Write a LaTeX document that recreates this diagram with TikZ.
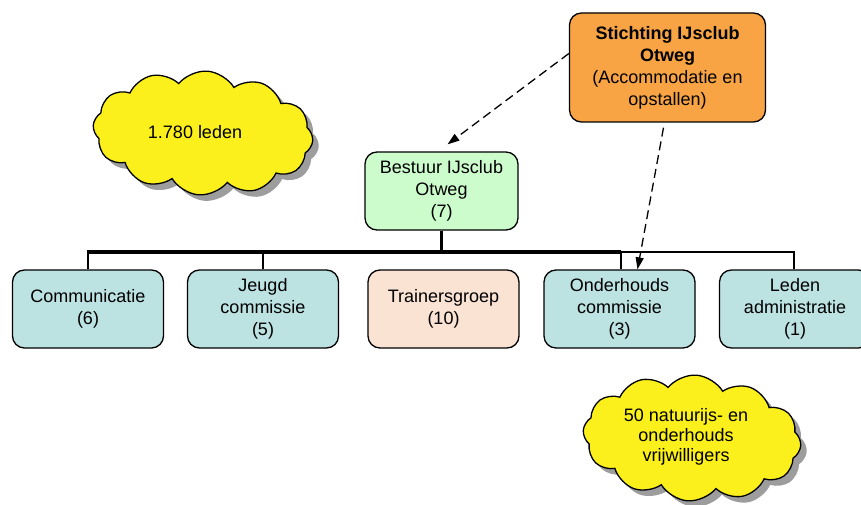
\documentclass[tikz,border=0pt]{standalone}
\usepackage{fontspec}
\setmainfont{Liberation Sans}
\usetikzlibrary{shapes.symbols,shadows,arrows.meta,calc}
\definecolor{teal}{HTML}{BCE2E2}
\definecolor{peach}{HTML}{FBE3D4}
\definecolor{mint}{HTML}{CCFCCC}
\definecolor{orng}{HTML}{F8A444}
\definecolor{cloudy}{HTML}{FCF01C}
\tikzset{
  box/.style={draw=black, line width=1.3pt, rounded corners=12pt, minimum width=151pt, minimum height=78pt, align=center, inner sep=2pt, font=\fontsize{18}{22}\selectfont},
  cloudbox/.style={cloud, cloud puffs=12, cloud puff arc=110, aspect=2, draw=black, line width=1.3pt, fill=cloudy, align=center, inner sep=0pt, font=\fontsize{18}{22}\selectfont,
    drop shadow={shadow xshift=6pt, shadow yshift=-6pt, opacity=0.55, fill=black!70}},
  dasharrow/.style={dashed, dash pattern=on 9pt off 5pt, line width=1.3pt, -{Triangle[length=12pt,width=8pt]}},
  thickline/.style={line width=3.5pt},
  thinline/.style={line width=2.2pt}
}
\begin{document}
\begin{tikzpicture}[x=1pt,y=-1pt]
\useasboundingbox (0,0) rectangle (861,505);
% clouds
\node[cloudbox, minimum width=220pt, minimum height=124pt, rotate=-4] (c1) at (203,133) {\rotatebox{4}{1.780 leden}\hspace*{16pt}};
\node[cloudbox, minimum width=218pt, minimum height=126pt, rotate=-4] (c2) at (692,438) {\rotatebox{4}{\begin{tabular}{@{}c@{}}50 natuurijs- en\\[-2pt] onderhouds\\[-2pt] vrijwilligers\end{tabular}}\hspace*{12pt}};
% boxes
\node[box, fill=orng, minimum width=196pt, minimum height=109pt] (stich) at (667.5,67.5) {\textbf{Stichting IJsclub}\\ \textbf{Otweg}\\ (Accommodatie en\\ opstallen)};
\node[box, fill=mint, minimum width=153pt, minimum height=78pt] (best) at (441.5,191) {Bestuur IJsclub\\ Otweg\\ (7)};
\node[box, fill=teal] (comm) at (88,309) {Communicatie\\ (6)};
\node[box, fill=teal] (jeugd) at (263,309) {Jeugd\\ commissie\\ (5)};
\node[box, fill=peach] (train) at (443.5,309) {Trainersgroep\\ (10)};
\node[box, fill=teal] (onder) at (619.5,309) {Onderhouds\\ commissie\\ (3)};
\node[box, fill=teal] (leden) at (795,309) {Leden\\ administratie\\ (1)};
% connectors
\coordinate (hl) at (441.5,252);
\coordinate (hm) at (621,252);
\coordinate (hr) at (794,252);
\draw[thickline] (best.south) -- (hl);
\draw[thickline] ([xshift=-1pt]comm.north |- hl) -- (hm);
\draw[thinline] (hm) -- ([xshift=1pt]hr);
\draw[thinline] (comm.north) -- (comm.north |- hl);
\draw[thinline] (jeugd.north) -- (jeugd.north |- hl);
\draw[thinline] ([xshift=1.5pt]onder.north) -- ([xshift=1.5pt]onder.north |- hl);
\draw[thinline] ([xshift=-1pt]leden.north) -- ([xshift=-1pt]leden.north |- hl);
\draw[dasharrow] ([yshift=14pt]stich.west) -- ([xshift=6pt,yshift=7pt]best.north);
\draw[dasharrow] ([xshift=-4pt,yshift=-5pt]stich.south) -- ([xshift=18pt]onder.north);
\end{tikzpicture}
\end{document}
